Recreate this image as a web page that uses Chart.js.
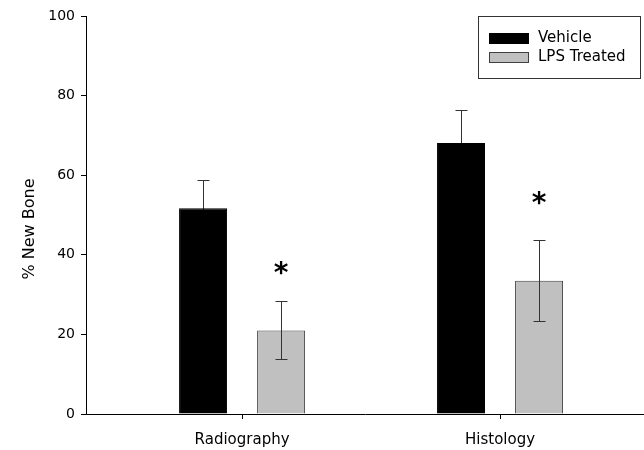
<!DOCTYPE html>
<html>
<head>
<meta charset="utf-8">
<script src="https://cdn.jsdelivr.net/npm/chart.js@4.4.1/dist/chart.umd.min.js"></script>
<style>
  html, body { margin: 0; padding: 0; background: #ffffff; }
  #wrap { width: 644px; height: 450px; }
</style>
</head>
<body>
<div id="wrap"><canvas id="c" width="644" height="450"></canvas></div>
<script>
// ---- data ----
const categories = ['Radiography', 'Histology'];
const seriesNames = ['Vehicle', 'LPS Treated'];
const vehicleValues = [51.7, 68.1];
const vehicleErrors = [7.0, 8.4];
const lpsValues = [21.0, 33.5];
const lpsErrors = [7.3, 10.2];
const asteriskLevels = [36.8, 54.3];   // significance markers above LPS bars
const yTicks = [0, 20, 40, 60, 80, 100];
const yTitle = '% New Bone';

const FONT = "'DejaVu Sans', 'Liberation Sans', Arial, sans-serif";

function drawErrors(chart, di) {
  const ctx = chart.ctx;
  const ys = chart.scales.y;
  const ds = chart.data.datasets[di];
  const meta = chart.getDatasetMeta(di);
  meta.data.forEach((bar, i) => {
    const v = ds.data[i].y;
    const e = ds.errors[i];
    const yTop = Math.round(ys.getPixelForValue(v + e)) + 0.5;
    const yBot = Math.round(ys.getPixelForValue(v - e)) + 0.5;
    const x = Math.round(bar.x) + 0.5;
    ctx.save();
    ctx.strokeStyle = '#333333';
    ctx.lineWidth = 1;
    ctx.beginPath();
    ctx.moveTo(x, yTop);
    ctx.lineTo(x, yBot);
    ctx.moveTo(x - 6, yTop);
    ctx.lineTo(x + 6, yTop);
    ctx.moveTo(x - 6, yBot);
    ctx.lineTo(x + 6, yBot);
    ctx.stroke();
    ctx.restore();
  });
}

const errorBarPlugin = {
  id: 'errorBars',
  // errors of dataset 0 are drawn behind their bars, dataset 1 on top
  beforeDatasetsDraw(chart) { drawErrors(chart, 0); },
  afterDatasetsDraw(chart) { drawErrors(chart, 1); }
};

const asteriskPlugin = {
  id: 'asterisks',
  afterDatasetsDraw(chart) {
    const ctx = chart.ctx;
    const ys = chart.scales.y;
    const meta = chart.getDatasetMeta(1);
    ctx.save();
    ctx.fillStyle = '#000000';
    ctx.font = 'bold 28px ' + FONT;
    ctx.textAlign = 'center';
    ctx.textBaseline = 'alphabetic';
    const m = ctx.measureText('*');
    const shift = (m.actualBoundingBoxAscent - m.actualBoundingBoxDescent) / 2;
    meta.data.forEach((bar, i) => {
      const y = ys.getPixelForValue(asteriskLevels[i]);
      ctx.fillText('*', bar.x, y + shift);
    });
    ctx.restore();
  }
};

const legendPlugin = {
  id: 'boxLegend',
  afterDraw(chart) {
    const ctx = chart.ctx;
    const bx = 478.5, by = 16.5, bw = 162, bh = 62;
    ctx.save();
    ctx.strokeStyle = '#333333';
    ctx.lineWidth = 1;
    ctx.fillStyle = '#ffffff';
    ctx.fillRect(bx, by, bw, bh);
    ctx.strokeRect(bx, by, bw, bh);
    chart.data.datasets.forEach((ds, i) => {
      const sy = 33 + i * 19;
      ctx.fillStyle = ds.backgroundColor;
      ctx.fillRect(489, sy, 40, 11);
      ctx.strokeStyle = ds.borderColor;
      ctx.strokeRect(489.5, sy + 0.5, 39, 10);
      ctx.fillStyle = '#000000';
      ctx.font = '15px ' + FONT;
      ctx.textAlign = 'left';
      ctx.textBaseline = 'middle';
      ctx.fillText(ds.label, 538, sy + 5.5);
    });
    // y-axis title
    ctx.translate(30, 229);
    ctx.rotate(-Math.PI / 2);
    ctx.fillStyle = '#000000';
    ctx.font = '16px ' + FONT;
    ctx.textAlign = 'center';
    ctx.textBaseline = 'middle';
    ctx.fillText(yTitle, 0, 0);
    ctx.restore();
  }
};

const makePoints = (vals) => vals.map((v, i) => ({ x: i + 1, y: v }));

new Chart(document.getElementById('c'), {
  type: 'bar',
  data: {
    datasets: [
      {
        label: seriesNames[0],
        data: makePoints(vehicleValues),
        errors: vehicleErrors,
        backgroundColor: '#000000',
        borderColor: '#000000',
        borderWidth: 1,
        categoryPercentage: 0.605,
        barPercentage: 0.615
      },
      {
        label: seriesNames[1],
        data: makePoints(lpsValues),
        errors: lpsErrors,
        backgroundColor: '#c0c0c0',
        borderColor: '#404040',
        borderWidth: 1,
        categoryPercentage: 0.605,
        barPercentage: 0.615
      }
    ]
  },
  options: {
    responsive: false,
    animation: false,
    devicePixelRatio: 1,
    layout: { padding: { top: 16, left: 0, right: 0, bottom: 0 } },
    plugins: { legend: { display: false }, tooltip: { enabled: false } },
    scales: {
      x: {
        type: 'linear',
        min: 0.395,
        max: 2.558,
        offset: false,
        afterBuildTicks: (s) => { s.ticks = categories.map((c, i) => ({ value: i + 1 })); },
        afterFit: (s) => { s.height = 36; },
        grid: { offset: false, drawOnChartArea: false, drawTicks: true, tickLength: 5, color: '#000000' },
        border: { color: '#000000', width: 1 },
        ticks: {
          autoSkip: false,
          maxRotation: 0,
          padding: 12,
          color: '#000000',
          font: { family: FONT, size: 15 },
          callback: (v) => categories[v - 1] || ''
        }
      },
      y: {
        min: 0,
        max: 100,
        afterBuildTicks: (s) => { s.ticks = yTicks.map(v => ({ value: v })); },
        afterFit: (s) => { s.width = 86; },
        grid: { drawOnChartArea: false, drawTicks: true, tickLength: 5, color: '#000000' },
        border: { color: '#000000', width: 1 },
        ticks: {
          padding: 6,
          color: '#000000',
          font: { family: FONT, size: 14 }
        }
      }
    }
  },
  plugins: [errorBarPlugin, asteriskPlugin, legendPlugin]
});
</script>
</body>
</html>
